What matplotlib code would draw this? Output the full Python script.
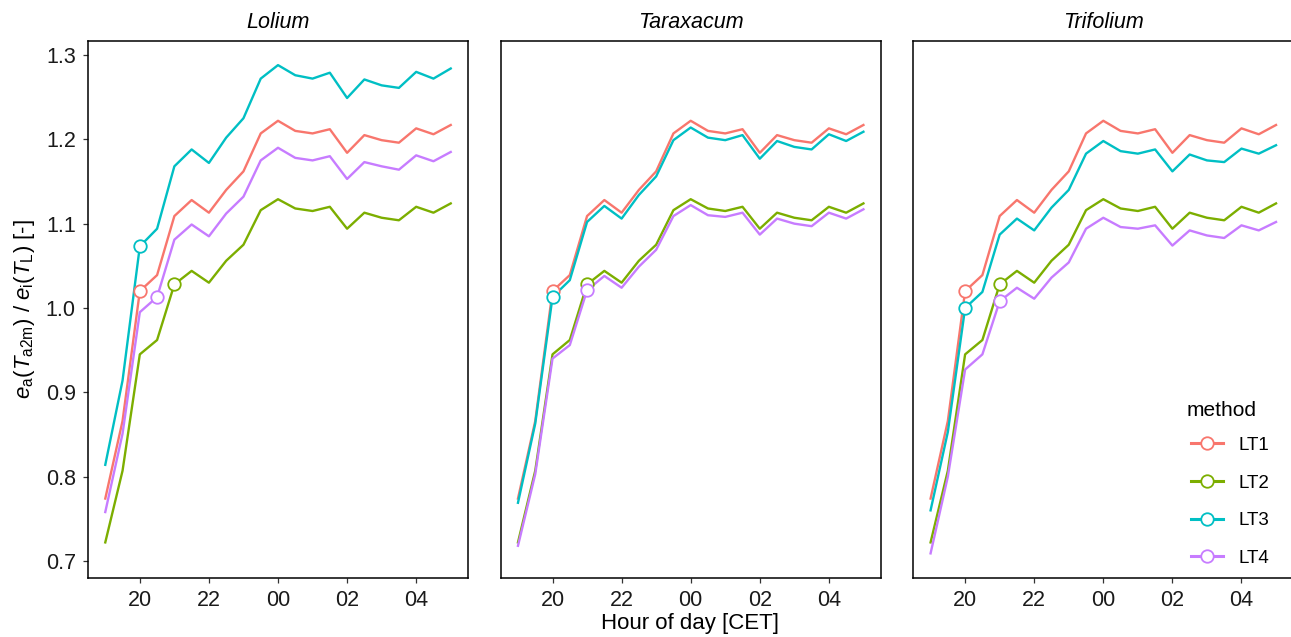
import numpy as np
import matplotlib
matplotlib.use('Agg')
import matplotlib.pyplot as plt
from matplotlib.lines import Line2D

plt.rcParams['font.family'] = ['Liberation Sans', 'DejaVu Sans']
plt.rcParams['mathtext.fontset'] = 'custom'
plt.rcParams['mathtext.rm'] = 'Liberation Sans'
plt.rcParams['mathtext.it'] = 'Liberation Sans:italic'

# Horas (CET), cada media hora desde las 19:00 hasta las 05:00
times = ["19:00", "19:30", "20:00", "20:30", "21:00", "21:30", "22:00", "22:30",
         "23:00", "23:30", "00:00", "00:30", "01:00", "01:30", "02:00", "02:30",
         "03:00", "03:30", "04:00", "04:30", "05:00"]

species = ["Lolium", "Taraxacum", "Trifolium"]
methods = ["LT1", "LT2", "LT3", "LT4"]
colors = ["#F8766D", "#7CAE00", "#00BFC4", "#C77CFF"]

# LT1 y LT2 son iguales en los tres paneles
lt1 = [0.774, 0.866, 1.020, 1.039, 1.109, 1.128, 1.113, 1.140, 1.162, 1.207, 1.222,
       1.210, 1.207, 1.212, 1.184, 1.205, 1.199, 1.196, 1.213, 1.206, 1.217]
lt2 = [0.722, 0.807, 0.945, 0.962, 1.028, 1.044, 1.030, 1.056, 1.075, 1.116, 1.129,
       1.118, 1.115, 1.120, 1.094, 1.113, 1.107, 1.104, 1.120, 1.113, 1.124]

lolium_lt3 = [0.814, 0.914, 1.073, 1.094, 1.168, 1.188, 1.172, 1.202, 1.225, 1.272, 1.288,
              1.276, 1.272, 1.279, 1.249, 1.271, 1.264, 1.261, 1.280, 1.272, 1.284]
lolium_lt4 = [0.758, 0.851, 0.995, 1.013, 1.081, 1.099, 1.085, 1.112, 1.132, 1.175, 1.190,
              1.178, 1.175, 1.180, 1.153, 1.173, 1.168, 1.164, 1.181, 1.174, 1.185]

taraxacum_lt3 = [0.769, 0.863, 1.013, 1.033, 1.102, 1.121, 1.106, 1.134, 1.156, 1.199, 1.214,
                 1.202, 1.199, 1.205, 1.177, 1.198, 1.191, 1.188, 1.206, 1.198, 1.209]
taraxacum_lt4 = [0.718, 0.803, 0.940, 0.956, 1.021, 1.038, 1.024, 1.049, 1.069, 1.109, 1.122,
                 1.110, 1.108, 1.113, 1.087, 1.106, 1.100, 1.097, 1.113, 1.106, 1.117]

trifolium_lt3 = [0.760, 0.853, 1.000, 1.019, 1.087, 1.106, 1.092, 1.119, 1.140, 1.183, 1.198,
                 1.186, 1.183, 1.188, 1.162, 1.182, 1.175, 1.173, 1.189, 1.183, 1.193]
trifolium_lt4 = [0.709, 0.800, 0.927, 0.945, 1.008, 1.024, 1.011, 1.036, 1.054, 1.094, 1.107,
                 1.096, 1.094, 1.098, 1.074, 1.092, 1.086, 1.083, 1.098, 1.092, 1.102]

# Hora donde va el circulo de cada metodo (LT1, LT2, LT3, LT4)
lolium_marks = ["20:00", "21:00", "20:00", "20:30"]
taraxacum_marks = ["20:00", "21:00", "20:00", "21:00"]
trifolium_marks = ["20:00", "21:00", "20:00", "21:00"]

data = {
    "Lolium": ([lt1, lt2, lolium_lt3, lolium_lt4], lolium_marks),
    "Taraxacum": ([lt1, lt2, taraxacum_lt3, taraxacum_lt4], taraxacum_marks),
    "Trifolium": ([lt1, lt2, trifolium_lt3, trifolium_lt4], trifolium_marks),
}


def to_hours(t):
    h, m = t.split(":")
    h = int(h) + int(m) / 60
    return h + 24 if h < 12 else h


x = np.array([to_hours(t) for t in times])

W, H = 1291, 637
fig = plt.figure(figsize=(W / 100, H / 100), dpi=100)

lefts = [88, 500.7, 913.3]
for i, sp in enumerate(species):
    ax = fig.add_axes([lefts[i] / W, 1 - 578 / H, 380 / W, 537 / H])
    series, marks = data[sp]
    for vals, mk, col in zip(series, marks, colors):
        ax.plot(x, vals, color=col, lw=1.7, zorder=2)
        idx = times.index(mk)
        ax.plot(x[idx], vals[idx], 'o', ms=9, mfc='white', mec=col, mew=1.3, zorder=3)
    ax.set_xlim(18.5, 29.5)
    ax.set_ylim(0.6798, 1.3166)
    ax.set_xticks([20, 22, 24, 26, 28])
    ax.set_xticklabels(["20", "22", "00", "02", "04"])
    ax.set_yticks([0.7, 0.8, 0.9, 1.0, 1.1, 1.2, 1.3])
    ax.tick_params(axis='both', direction='out', length=3.8, width=0.9, color='#333333',
                   labelsize=15.5, pad=5, labelcolor='#1a1a1a')
    if i > 0:
        ax.tick_params(axis='y', left=False, labelleft=False)
    else:
        ax.set_yticklabels(["0.7", "0.8", "0.9", "1.0", "1.1", "1.2", "1.3"])
    for s in ax.spines.values():
        s.set_color('black')
        s.set_linewidth(1.1)
    if i == 2:
        ax.spines['right'].set_visible(False)
    ax.set_title(sp, fontstyle='italic', fontsize=15.5, pad=9)

fig.text(25 / W, 1 - 309 / H, r'$e_{\mathrm{a}}(T_{\mathrm{a2m}})$ / $e_{\mathrm{i}}(T_{\mathrm{L}})$ [-]',
         rotation=90, ha='center', va='center', fontsize=16)
fig.text(690 / W, 1 - 624 / H, "Hour of day [CET]", ha='center', va='center', fontsize=16)

# Leyenda dentro del tercer panel
fig.text(1187 / W, 1 - 410 / H, "method", ha='left', va='center', fontsize=15)
handles = [Line2D([0], [0], color=c, lw=2.2, marker='o', ms=9, mfc='white', mec=c, mew=1.3)
           for c in colors]
fig.legend(handles, methods, loc='lower left',
           bbox_to_anchor=(1191 / W, 1 - 567 / H), frameon=False, fontsize=13.5,
           labelspacing=1.1, handlelength=1.7, handletextpad=0.85,
           borderpad=0, borderaxespad=0)

fig.savefig("out.png", dpi=100)
